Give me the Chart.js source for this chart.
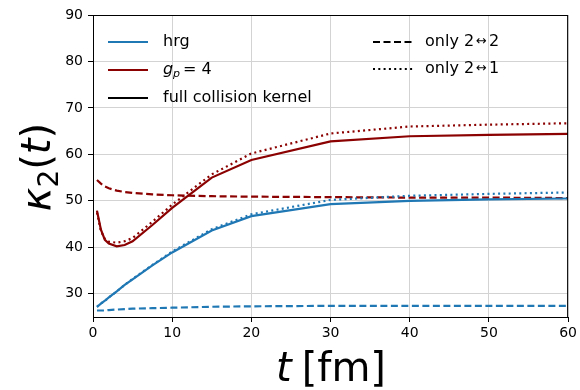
<!DOCTYPE html>
<html>
<head>
<meta charset="utf-8">
<script src="https://cdn.jsdelivr.net/npm/chart.js@4"></script>
<style>
  body { margin: 0; background: #fff; }
  #wrap { width: 580px; height: 390px; }
</style>
</head>
<body>
<div id="wrap"><canvas id="myChart" width="580" height="390"></canvas></div>
<script>
// tiempos (fm)
const tiempos = [0.5, 1, 1.5, 2, 3, 4, 5, 7.5, 10, 15, 20, 30, 40, 50, 60];

// hrg
const hrgFull   = [27.2, 27.9, 28.5, 29.2, 30.5, 31.9, 33.1, 36.1, 38.9, 43.6, 46.7, 49.3, 50.0, 50.3, 50.5];
const hrgSolo22 = [26.4, 26.4, 26.4, 26.5, 26.6, 26.7, 26.8, 26.9, 27.0, 27.2, 27.3, 27.4, 27.4, 27.4, 27.4];
const hrgSolo21 = [27.2, 27.9, 28.5, 29.2, 30.5, 31.9, 33.2, 36.2, 39.1, 43.9, 47.1, 50.2, 51.1, 51.5, 51.8];

// g_p = 4
const gpFull   = [47.9, 43.8, 41.6, 40.8, 40.2, 40.5, 41.3, 44.8, 48.5, 55.0, 58.8, 62.8, 63.9, 64.2, 64.4];
const gpSolo22 = [54.5, 53.7, 53.1, 52.7, 52.2, 51.9, 51.7, 51.4, 51.2, 51.0, 50.9, 50.8, 50.7, 50.7, 50.6];
const gpSolo21 = [47.5, 43.5, 41.8, 41.2, 41.0, 41.3, 42.0, 45.5, 49.2, 55.7, 60.2, 64.5, 66.0, 66.4, 66.7];

const ticksY = [30, 40, 50, 60, 70, 80, 90];
const ticksX = [0, 10, 20, 30, 40, 50, 60];

const azul = '#1f77b4';
const rojo = '#8b0000';
const guion = [7, 3.5];
const punto = [2, 3.3];
const fuente = 'DejaVu Sans';

function serie(valores, color, dash) {
    return {
        data: tiempos.map((t, i) => ({ x: t, y: valores[i] })),
        borderColor: color,
        borderWidth: 2.2,
        borderDash: dash,
        pointRadius: 0,
        fill: false,
        tension: 0
    };
}

// Dibuja caja, leyenda y titulos de ejes
const extras = {
    id: 'extras',
    afterDraw(chart) {
        const ctx = chart.ctx;
        const a = chart.chartArea;
        ctx.save();
        ctx.strokeStyle = '#000';
        ctx.lineWidth = 1;
        ctx.strokeRect(a.left + 0.5, a.top + 0.5, a.right - a.left - 1, a.bottom - a.top);

        // leyenda
        ctx.lineWidth = 2.2;
        ctx.font = '16px "' + fuente + '"';
        ctx.fillStyle = '#000';
        ctx.textBaseline = 'middle';
        const linea = (x, y, color, dash) => {
            ctx.strokeStyle = color;
            ctx.setLineDash(dash);
            ctx.beginPath();
            ctx.moveTo(x, y);
            ctx.lineTo(x + 40, y);
            ctx.stroke();
            ctx.setLineDash([]);
        };
        // texto "only 2 <-> n" con flecha mas chica
        const flecha = (n, x, y) => {
            ctx.font = '16px "' + fuente + '"';
            ctx.fillText('only 2', x, y);
            x += ctx.measureText('only 2').width + 2;
            ctx.font = '13px "' + fuente + '"';
            ctx.fillText('\u2194', x, y);
            x += ctx.measureText('\u2194').width + 2;
            ctx.font = '16px "' + fuente + '"';
            ctx.fillText(n, x, y);
        };
        linea(108, 42, azul, []);
        ctx.fillText('hrg', 163, 42);
        linea(108, 70, rojo, []);
        ctx.font = 'italic 16px "' + fuente + '"';
        ctx.fillText('g', 163, 70);
        ctx.font = 'italic 11px "' + fuente + '"';
        ctx.fillText('p', 173, 74);
        ctx.font = '16px "' + fuente + '"';
        ctx.fillText('= 4', 183, 70);
        linea(108, 98, '#000', []);
        ctx.fillText('full collision kernel', 163, 98);
        linea(373, 42, '#000', guion);
        flecha('2', 425, 42);
        linea(373, 69, '#000', punto);
        flecha('1', 425, 69);

        // titulo eje y
        ctx.save();
        ctx.translate(36, 167);
        ctx.rotate(-Math.PI / 2);
        ctx.textAlign = 'left';
        ctx.textBaseline = 'alphabetic';
        const partes = [['\u03ba', 'italic 40px', 0], ['2', '28px', 8], ['(', '40px', 0], ['t', 'italic 40px', 0], [')', '40px', 0]];
        let w = 0;
        partes.forEach(p => { ctx.font = p[1] + ' "' + fuente + '"'; w += ctx.measureText(p[0]).width; });
        let x = -w / 2;
        partes.forEach(p => {
            ctx.font = p[1] + ' "' + fuente + '"';
            ctx.fillText(p[0], x, 14 + p[2]);
            x += ctx.measureText(p[0]).width;
        });
        ctx.restore();

        // titulo eje x
        ctx.textBaseline = 'alphabetic';
        ctx.font = 'italic 40px "' + fuente + '"';
        const wt = ctx.measureText('t').width;
        ctx.font = '40px "' + fuente + '"';
        const wf = ctx.measureText('[fm]').width;
        let x0 = 331 - (wt + 10 + wf) / 2;
        ctx.font = 'italic 40px "' + fuente + '"';
        ctx.fillText('t', x0, 381);
        ctx.font = '40px "' + fuente + '"';
        ctx.fillText('[fm]', x0 + wt + 10, 381);
        ctx.restore();
    }
};

const ctx = document.getElementById('myChart');

new Chart(ctx, {
    type: 'line',
    data: {
        datasets: [
            serie(hrgFull, azul, []),
            serie(hrgSolo22, azul, guion),
            serie(hrgSolo21, azul, punto),
            serie(gpFull, rojo, []),
            serie(gpSolo22, rojo, guion),
            serie(gpSolo21, rojo, punto)
        ]
    },
    options: {
        responsive: false,
        animation: false,
        layout: { padding: { left: 0, right: 11, top: 15, bottom: 0 } },
        plugins: { legend: { display: false }, tooltip: { enabled: false } },
        scales: {
            x: {
                type: 'linear',
                min: 0,
                max: 60,
                afterBuildTicks: s => { s.ticks = ticksX.map(v => ({ value: v })); },
                afterFit: s => { s.height = 73; },
                grid: { color: '#d3d3d3', tickColor: '#000', tickLength: 5 },
                border: { color: '#000' },
                ticks: { color: '#000', font: { family: fuente, size: 14 }, padding: 3, maxRotation: 0 }
            },
            y: {
                min: 25,
                max: 90,
                afterBuildTicks: s => { s.ticks = ticksY.map(v => ({ value: v })); },
                afterFit: s => { s.width = 93; },
                grid: { color: '#d3d3d3', tickColor: '#000', tickLength: 5 },
                border: { color: '#000' },
                ticks: { color: '#000', font: { family: fuente, size: 14 }, padding: 5 }
            }
        }
    },
    plugins: [extras]
});
</script>
</body>
</html>
